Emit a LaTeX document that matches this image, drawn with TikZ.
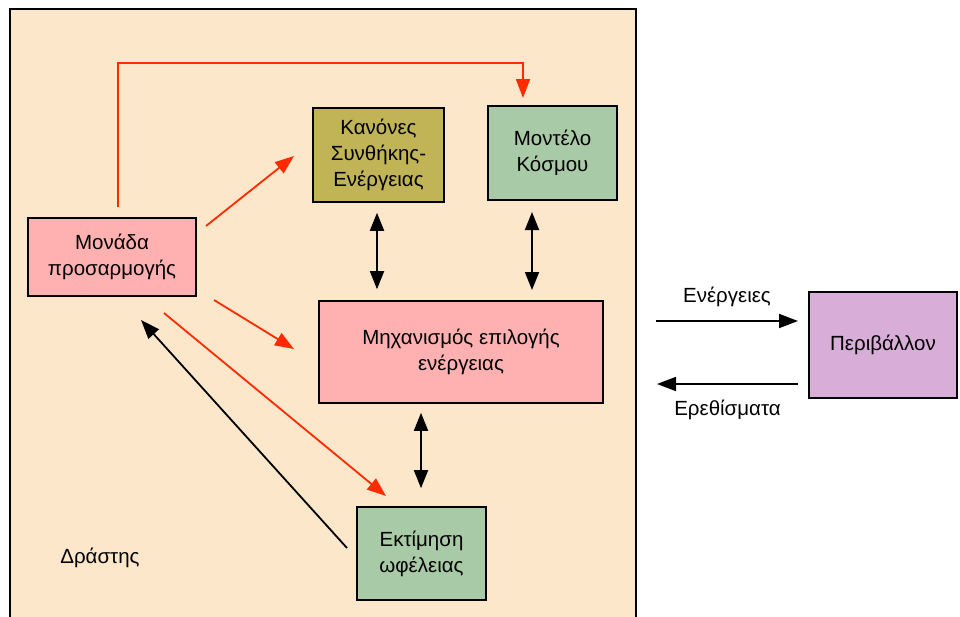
\documentclass[tikz,border=0pt]{standalone}
\usepackage{fontspec}
\setmainfont{Liberation Sans}
\usetikzlibrary{arrows.meta,calc}

\definecolor{agentbg}{HTML}{FDE7CB}
\definecolor{pinkbox}{HTML}{FFB1B1}
\definecolor{olivebox}{HTML}{C0B457}
\definecolor{greenbox}{HTML}{A9CAA6}
\definecolor{purplebox}{HTML}{D8AED8}
\definecolor{adaptred}{HTML}{FF2A00}

\tikzset{
    box/.style={draw=black, line width=1.6pt, align=center, font=\fontsize{20.5}{26}\selectfont},
    redarrow/.style={draw=adaptred, line width=1.8pt, -{Triangle[length=19pt,width=14pt]}},
    blackarrow/.style={draw=black, line width=1.8pt, -{Triangle[length=19pt,width=14pt]}},
    twoway/.style={draw=black, line width=1.8pt, {Triangle[length=18pt,width=14pt]}-{Triangle[length=18pt,width=14pt]}},
    label/.style={font=\fontsize{20.5}{26}\selectfont}
}

\begin{document}
\begin{tikzpicture}[x=1pt, y=-1pt]
    \clip (0,0) rectangle (960,616);
    \fill[white] (0,0) rectangle (960,616);

    % Agent
    \draw[fill=agentbg, line width=1.8pt] (10,9) rectangle (636,640);
    \node[label] (agent) at (100,558) {Δράστης};

    % Boxes
    \node[box, fill=pinkbox, minimum width=168pt, minimum height=78pt] (adapt) at (112,257) {Μονάδα\\προσαρμογής};
    \node[box, fill=olivebox, minimum width=131pt, minimum height=94pt] (rules) at (378.5,155) {Κανόνες\\Συνθήκης-\\Ενέργειας};
    \node[box, fill=greenbox, minimum width=129pt, minimum height=94pt] (world) at (552.5,153) {Μοντέλο\\Κόσμου};
    \node[box, fill=pinkbox, minimum width=284pt, minimum height=102pt] (select) at (461,352) {Μηχανισμός επιλογής\\ενέργειας};
    \node[box, fill=greenbox, minimum width=129pt, minimum height=93pt] (utility) at (421.5,553.5) {Εκτίμηση\\ωφέλειας};
    \node[box, fill=purplebox, minimum width=148pt, minimum height=106pt] (env) at (883,345) {Περιβάλλον};

    % Arrow ends
    \coordinate (a1) at (118,207);
    \coordinate (a2) at (523,98);
    \coordinate (b1) at (206,226);
    \coordinate (b2) at (294,156);
    \coordinate (c1) at (214,300);
    \coordinate (c2) at (294,349);
    \coordinate (d1) at (164,313);
    \coordinate (d2) at (386,496);
    \coordinate (e1) at (347,548);
    \coordinate (e2) at (141,320);
    \coordinate (w1) at (532,212);
    \coordinate (w2) at (532,290);
    \coordinate (act1) at (656,321);
    \coordinate (act2) at (798,321);
    \coordinate (per1) at (798,384);
    \coordinate (per2) at (657,384);

    % Red arrows
    \draw[redarrow] (a1) -- (118,63) -- (523,63) -- (a2);
    \draw[redarrow] (b1) -- (b2);
    \draw[redarrow] (c1) -- (c2);
    \draw[redarrow] (d1) -- (d2);

    % Black arrows
    \draw[blackarrow] (e1) -- (e2);
    \draw[twoway] ([yshift=-10pt]rules.south -| 377,0) -- ([yshift=11pt]select.north -| 377,0);
    \draw[twoway] (w1) -- (w2);
    \draw[twoway] ([yshift=-9pt]select.south -| 421,0) -- ([yshift=18pt]utility.north -| 421,0);

    % Environment
    \draw[blackarrow] (act1) -- (act2) node[label, midway, above=10pt] (actions) {Ενέργειες};
    \draw[blackarrow] (per1) -- (per2) node[label, midway, below=12pt] (percepts) {Ερεθίσματα};
\end{tikzpicture}
\end{document}
